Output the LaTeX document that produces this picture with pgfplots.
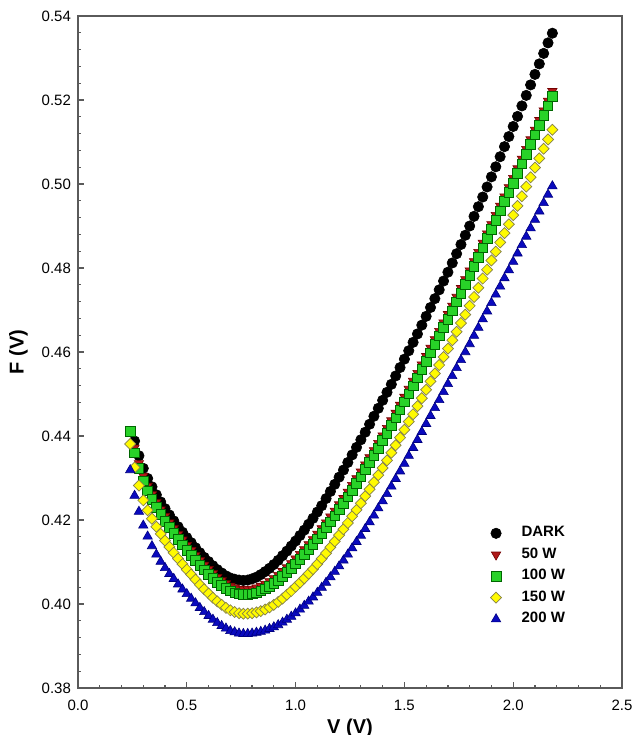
\documentclass[border=0pt]{standalone}
\usepackage{fontspec}
\setmainfont{Liberation Sans}
\usepackage{pgfplots}
\usepackage{pgfplotstable}
\pgfplotsset{compat=1.18}

\definecolor{axgray}{RGB}{90,90,90}
\definecolor{dkred}{RGB}{175,25,25}
\definecolor{grn}{RGB}{40,210,40}
\definecolor{ylw}{RGB}{255,250,0}
\definecolor{blu}{RGB}{10,10,190}

% V, then F for each illumination level
\pgfplotstableread{
v dark w50 w100 w150 w200
0.24 nan nan 0.4411 0.4381 0.4319
0.26 0.4388 0.4372 0.4360 0.4325 0.4258
0.28 0.4353 0.4335 0.4323 0.4282 0.4220
0.30 0.4323 0.4305 0.4293 0.4247 0.4187
0.32 0.4299 0.4281 0.4269 0.4223 0.4161
0.34 0.4279 0.4261 0.4249 0.4203 0.4138
0.36 0.4260 0.4242 0.4230 0.4184 0.4118
0.38 0.4243 0.4225 0.4213 0.4167 0.4101
0.40 0.4227 0.4209 0.4197 0.4151 0.4086
0.42 0.4212 0.4194 0.4182 0.4136 0.4072
0.44 0.4198 0.4180 0.4168 0.4122 0.4060
0.46 0.4184 0.4166 0.4154 0.4108 0.4047
0.48 0.4171 0.4153 0.4141 0.4095 0.4035
0.50 0.4158 0.4140 0.4128 0.4082 0.4024
0.52 0.4146 0.4128 0.4116 0.4070 0.4013
0.54 0.4134 0.4116 0.4104 0.4058 0.4002
0.56 0.4122 0.4104 0.4092 0.4046 0.3991
0.58 0.4111 0.4093 0.4081 0.4035 0.3981
0.60 0.4101 0.4083 0.4071 0.4025 0.3972
0.62 0.4091 0.4073 0.4061 0.4015 0.3963
0.64 0.4082 0.4064 0.4052 0.4006 0.3955
0.66 0.4074 0.4056 0.4044 0.3998 0.3948
0.68 0.4067 0.4049 0.4037 0.3991 0.3942
0.70 0.4062 0.4043 0.4031 0.3985 0.3936
0.72 0.4059 0.4039 0.4027 0.3981 0.3933
0.74 0.4057 0.4036 0.4024 0.3978 0.3930
0.76 0.4056 0.4035 0.4023 0.3977 0.3929
0.78 0.4057 0.4035 0.4023 0.3977 0.3929
0.80 0.4060 0.4036 0.4024 0.3978 0.3930
0.82 0.4064 0.4039 0.4027 0.3980 0.3932
0.84 0.4070 0.4043 0.4031 0.3983 0.3934
0.86 0.4077 0.4048 0.4036 0.3987 0.3937
0.88 0.4085 0.4054 0.4042 0.3992 0.3941
0.90 0.4094 0.4061 0.4049 0.3998 0.3945
0.92 0.4104 0.4069 0.4057 0.4005 0.3950
0.94 0.4115 0.4078 0.4066 0.4013 0.3956
0.96 0.4126 0.4087 0.4075 0.4022 0.3963
0.98 0.4138 0.4097 0.4085 0.4031 0.3970
1.00 0.4150 0.4108 0.4096 0.4041 0.3978
1.02 0.4163 0.4119 0.4107 0.4051 0.3987
1.04 0.4176 0.4130 0.4118 0.4061 0.3996
1.06 0.4190 0.4142 0.4130 0.4072 0.4006
1.08 0.4204 0.4154 0.4142 0.4083 0.4016
1.10 0.4219 0.4167 0.4155 0.4095 0.4027
1.12 0.4234 0.4180 0.4168 0.4108 0.4039
1.14 0.4251 0.4194 0.4182 0.4121 0.4051
1.16 0.4268 0.4208 0.4196 0.4135 0.4064
1.18 0.4285 0.4222 0.4210 0.4149 0.4077
1.20 0.4302 0.4237 0.4225 0.4164 0.4090
1.22 0.4319 0.4252 0.4240 0.4178 0.4104
1.24 0.4337 0.4267 0.4255 0.4193 0.4118
1.26 0.4355 0.4283 0.4271 0.4209 0.4133
1.28 0.4373 0.4299 0.4287 0.4224 0.4148
1.30 0.4391 0.4315 0.4303 0.4240 0.4163
1.32 0.4409 0.4332 0.4320 0.4257 0.4179
1.34 0.4428 0.4349 0.4337 0.4273 0.4195
1.36 0.4447 0.4366 0.4354 0.4290 0.4211
1.38 0.4466 0.4383 0.4371 0.4307 0.4228
1.40 0.4485 0.4401 0.4389 0.4324 0.4245
1.42 0.4504 0.4419 0.4407 0.4342 0.4262
1.44 0.4523 0.4437 0.4425 0.4360 0.4280
1.46 0.4543 0.4455 0.4443 0.4378 0.4298
1.48 0.4563 0.4474 0.4462 0.4396 0.4316
1.50 0.4583 0.4493 0.4481 0.4415 0.4334
1.52 0.4603 0.4512 0.4500 0.4434 0.4353
1.54 0.4623 0.4531 0.4519 0.4452 0.4372
1.56 0.4643 0.4550 0.4538 0.4471 0.4391
1.58 0.4664 0.4570 0.4558 0.4490 0.4410
1.60 0.4685 0.4590 0.4578 0.4510 0.4429
1.62 0.4706 0.4610 0.4598 0.4530 0.4448
1.64 0.4727 0.4630 0.4618 0.4549 0.4467
1.66 0.4748 0.4650 0.4638 0.4569 0.4486
1.68 0.4769 0.4670 0.4658 0.4588 0.4505
1.70 0.4790 0.4690 0.4678 0.4608 0.4524
1.72 0.4812 0.4710 0.4698 0.4628 0.4543
1.74 0.4834 0.4731 0.4719 0.4648 0.4562
1.76 0.4856 0.4752 0.4740 0.4669 0.4581
1.78 0.4878 0.4773 0.4761 0.4689 0.4600
1.80 0.4900 0.4794 0.4782 0.4710 0.4619
1.82 0.4923 0.4816 0.4804 0.4731 0.4639
1.84 0.4946 0.4838 0.4826 0.4753 0.4658
1.86 0.4969 0.4860 0.4848 0.4775 0.4678
1.88 0.4993 0.4882 0.4870 0.4796 0.4697
1.90 0.5017 0.4904 0.4892 0.4818 0.4717
1.92 0.5041 0.4926 0.4914 0.4839 0.4737
1.94 0.5065 0.4948 0.4936 0.4861 0.4756
1.96 0.5089 0.4970 0.4958 0.4883 0.4776
1.98 0.5113 0.4992 0.4980 0.4904 0.4795
2.00 0.5137 0.5014 0.5002 0.4926 0.4815
2.02 0.5161 0.5037 0.5025 0.4948 0.4835
2.04 0.5186 0.5060 0.5048 0.4971 0.4855
2.06 0.5211 0.5083 0.5071 0.4994 0.4875
2.08 0.5236 0.5106 0.5094 0.5016 0.4895
2.10 0.5261 0.5129 0.5117 0.5039 0.4915
2.12 0.5286 0.5152 0.5140 0.5061 0.4935
2.14 0.5311 0.5175 0.5163 0.5084 0.4955
2.16 0.5336 0.5198 0.5186 0.5106 0.4975
2.18 0.5359 0.5221 0.5209 0.5129 0.4995
}\fdata

\begin{document}
\begin{tikzpicture}
\begin{axis}[
    at={(0,0)}, anchor=south west,
    width=272pt, height=336pt, scale only axis,
    xmin=0, xmax=2.5, ymin=0.38, ymax=0.54,
    xtick={0,0.5,1,1.5,2,2.5},
    ytick={0.38,0.40,0.42,0.44,0.46,0.48,0.50,0.52,0.54},
    minor x tick num=4, minor y tick num=4,
    tick align=inside, tick pos=left,
    major tick length=3pt, minor tick length=1.7pt,
    axis line style={axgray, line width=0.65pt},
    every tick/.style={axgray, line width=0.6pt},
    /pgf/number format/assume math mode=true,
    tick label style={font=\fontsize{7.5}{9}\selectfont, text=black},
    xticklabel style={yshift=-2.5pt, /pgf/number format/.cd, fixed, fixed zerofill, precision=1},
    yticklabel style={/pgf/number format/.cd, fixed, fixed zerofill, precision=2},
    xlabel={V (V)}, ylabel={F (V)},
    label style={font=\bfseries\fontsize{10}{12}\selectfont},
    xlabel style={at={(axis description cs:0.5,-0.067)}, anchor=base},
    ylabel style={at={(axis description cs:-0.1094,0.5)}, anchor=center},
    legend style={draw=none, fill=none, at={(axis description cs:0.7466,0.2526)},
        anchor=north west, font=\bfseries\fontsize{7.5}{9}\selectfont, row sep=0pt,
        /tikz/every odd column/.append style={column sep=8pt}},
    legend cell align=left,
]
\addplot[only marks, mark=*, mark size=2.6pt,
    mark options={draw=black, fill=black, line width=0.3pt}]
    table[x=v, y=dark]{\fdata};
\addlegendentry{DARK}
\addplot[only marks, mark=triangle*, mark size=2.7pt,
    mark options={rotate=180, draw=black!55!red, fill=dkred, line width=0.3pt}]
    table[x=v, y=w50]{\fdata};
\addlegendentry{50 W}
\addplot[only marks, mark=square*, mark size=2.4pt,
    mark options={draw=black!60!green, fill=grn, line width=0.35pt}]
    table[x=v, y=w100]{\fdata};
\addlegendentry{100 W}
\addplot[only marks, mark=square*, mark size=1.95pt,
    mark options={rotate=45, draw=black!55!yellow, fill=ylw, line width=0.35pt}]
    table[x=v, y=w150]{\fdata};
\addlegendentry{150 W}
\addplot[only marks, mark=triangle*, mark size=2.7pt,
    mark options={draw=black!50!blue, fill=blu, line width=0.3pt}]
    table[x=v, y=w200]{\fdata};
\addlegendentry{200 W}
\end{axis}
\pgfresetboundingbox
\path[use as bounding box] (-39pt,-23.5pt) rectangle (277pt,344pt);
\end{tikzpicture}
\end{document}
